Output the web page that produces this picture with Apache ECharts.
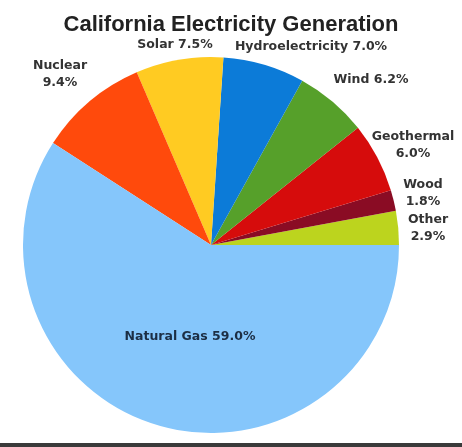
<!DOCTYPE html>
<html>
<head>
<meta charset="utf-8">
<script src="https://cdn.jsdelivr.net/npm/echarts@6/dist/echarts.min.js"></script>
<style>
html,body{margin:0;padding:0;background:#fff;}
#chart{width:462px;height:447px;}
</style>
</head>
<body>
<div id="chart"></div>
<script>
// Data (counter-clockwise from 3 o'clock)
const categories = ['Other', 'Wood', 'Geothermal', 'Wind', 'Hydroelectricity', 'Solar', 'Nuclear', 'Natural Gas'];
const values = [2.9, 1.8, 6.0, 6.2, 7.0, 7.5, 9.4, 59.0];
const labelTexts = ['Other\n2.9%', 'Wood\n1.8%', 'Geothermal\n6.0%', 'Wind 6.2%', 'Hydroelectricity 7.0%', 'Solar 7.5%', 'Nuclear\n9.4%', 'Natural Gas 59.0%'];
const colors = ['#bcd41e', '#8a0c24', '#d60c0c', '#56a02a', '#0c7bd8', '#ffcb22', '#ff4a0c', '#85c6fb'];
// label anchor positions (text placement only)
const labelPos = [[428, 228], [423, 193], [413, 145], [371, 80], [311, 47], [175, 45], [60, 74], [190, 337]];

const chart = echarts.init(document.getElementById('chart'));
chart.setOption({
  animation: false,
  backgroundColor: '#fff',
  title: {
    text: 'California Electricity Generation',
    left: 'center',
    top: 9,
    textStyle: { fontFamily: 'Liberation Sans, Arial, sans-serif', fontSize: 22, fontWeight: 'bold', color: '#222' }
  },
  graphic: [{
    type: 'rect', shape: { x: 0, y: 443, width: 462, height: 4 },
    style: { fill: '#3a3a3a' }
  }],
  series: [{
    type: 'pie',
    center: [211, 245],
    radius: [0, 188],
    startAngle: 0,
    clockwise: false,
    avoidLabelOverlap: false,
    labelLine: { show: false },
    itemStyle: { borderWidth: 0 },
    label: {
      show: true,
      position: 'outside',
      fontFamily: 'DejaVu Sans, Verdana, sans-serif',
      fontSize: 12.5,
      fontWeight: 'bold',
      color: '#333',
      lineHeight: 17,
      align: 'center',
      formatter: p => labelTexts[p.dataIndex]
    },
    labelLayout: p => ({
      x: labelPos[p.dataIndex][0],
      y: labelPos[p.dataIndex][1],
      align: 'center',
      verticalAlign: 'middle'
    }),
    data: categories.map((c, i) => ({
      name: c,
      value: values[i],
      itemStyle: { color: colors[i] },
      label: i === 7 ? { color: '#1c2e44' } : {}
    }))
  }]
});
</script>
</body>
</html>
